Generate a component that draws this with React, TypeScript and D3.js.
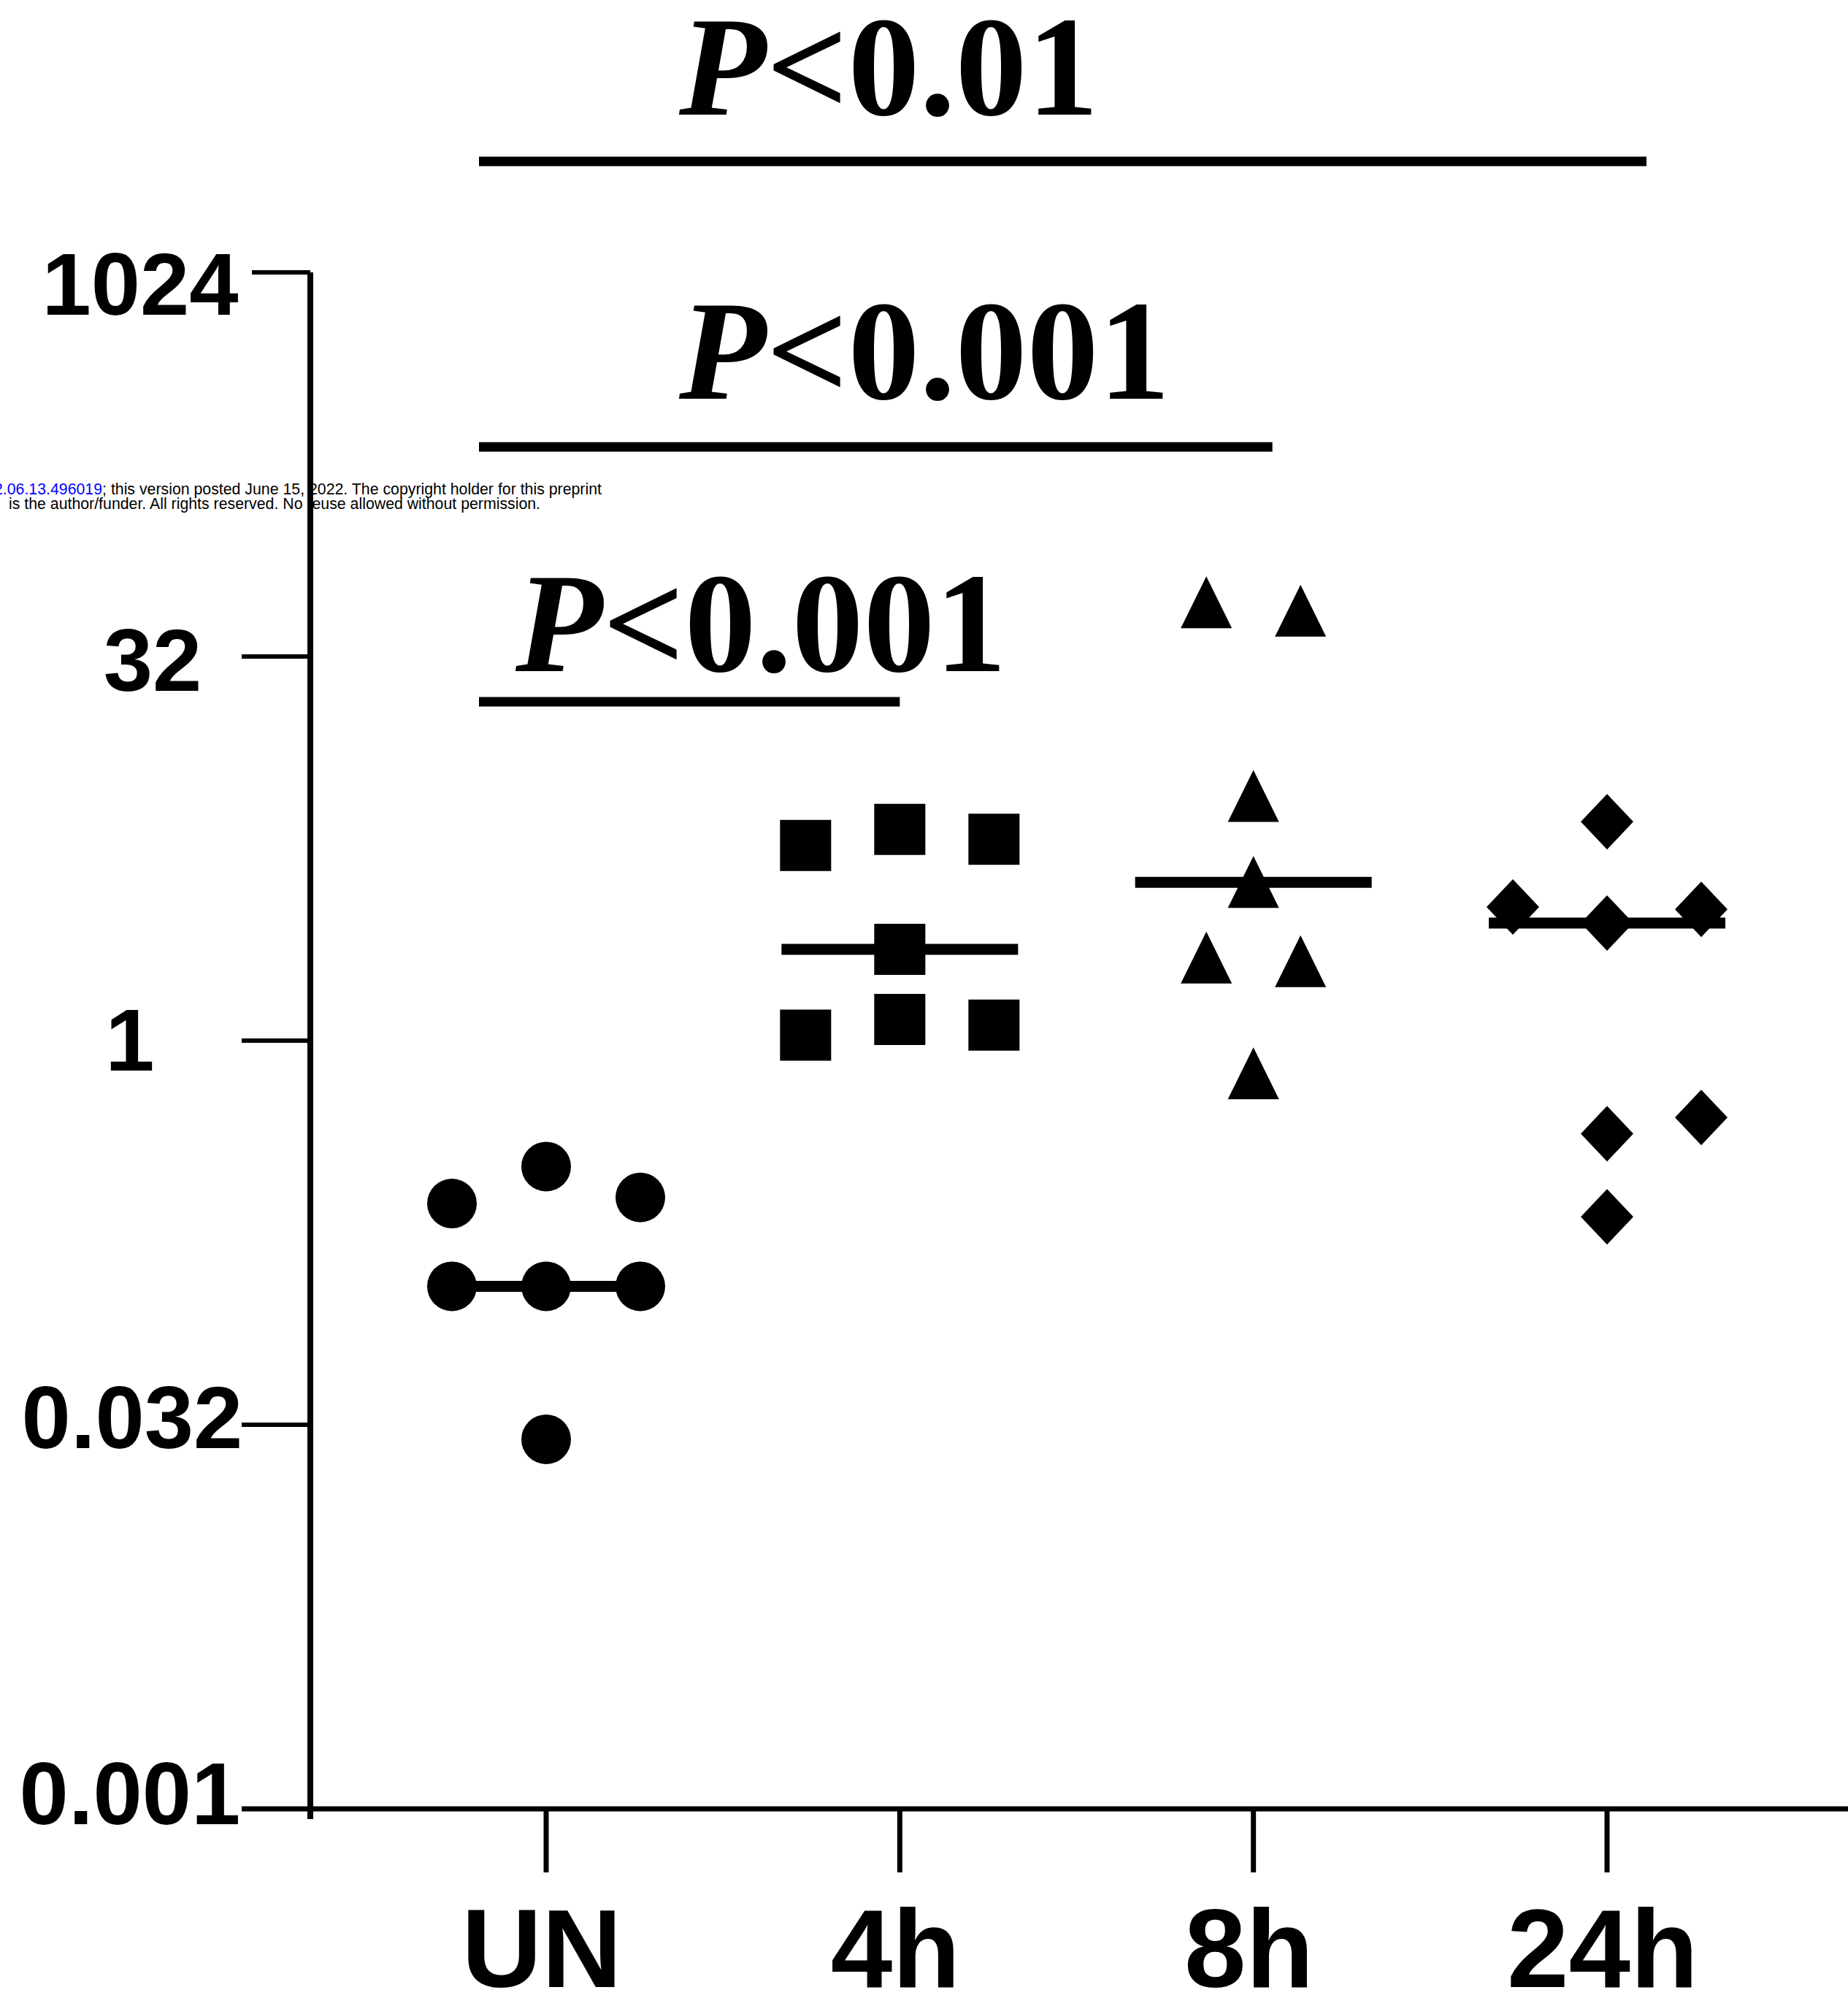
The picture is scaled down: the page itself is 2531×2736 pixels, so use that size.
import React, { useRef, useEffect } from 'react';
import * as d3 from 'd3';

// groups on the x axis
const groups = ['UN', '4h', '8h', '24h'];

// values per group
const unValues = [0.23, 0.321, 0.243, 0.109, 0.109, 0.109, 0.0274];
const h4Values = [5.82, 6.73, 6.15, 2.28, 1.05, 1.21, 1.15];
const h8Values = [52.0, 48.2, 9.06, 4.17, 2.11, 2.04, 0.742];
const h24Values = [7.21, 3.34, 2.89, 3.27, 0.432, 0.5, 0.204];

// column of each point inside its group (-1 left, 0 centre, 1 right)
const unSlots = [-1, 0, 1, -1, 0, 1, 0];
const h4Slots = [-1, 0, 1, 0, -1, 0, 1];
const h8Slots = [-0.5, 0.5, 0, 0, -0.5, 0.5, 0];
const h24Slots = [0, -1, 0, 1, 0, 1, 0];

// y axis ticks
const tickValues = [2 ** -10, 2 ** -5, 1, 2 ** 5, 2 ** 10];
const tickLabels = ['0.001', '0.032', '1', '32', '1024'];

// significance brackets
const compFrom = ['UN', 'UN', 'UN'];
const compTo = ['4h', '8h', '24h'];
const compLabels = ['0.001', '0.001', '0.01'];

const W = 2531;
const H = 2736;

const App = () => {
  const chartRef = useRef<HTMLDivElement | null>(null);

  useEffect(() => {
    d3.select(chartRef.current).select('svg').remove();

    const svg = d3
      .select(chartRef.current)
      .append('svg')
      .attr('width', W)
      .attr('height', H)
      .style('position', 'absolute')
      .style('left', 0)
      .style('top', 0)
      .style('background', '#fff');

    const xScale = d3.scalePoint().domain(groups).range([748, 2201]);
    const yScale = d3.scaleLog().base(2).domain([2 ** -10, 2 ** 10]).range([2477, 373]);

    const slotWidth = 129;
    const series = [
      { key: 'UN', values: unValues, slots: unSlots, shape: 'circle' },
      { key: '4h', values: h4Values, slots: h4Slots, shape: 'square' },
      { key: '8h', values: h8Values, slots: h8Slots, shape: 'triangle' },
      { key: '24h', values: h24Values, slots: h24Slots, shape: 'diamond' },
    ];

    // preprint watermark (sits under the axis)
    const wm = svg
      .append('g')
      .style('font-family', '"Liberation Sans", Arial, sans-serif')
      .style('font-size', '21.3px');
    const wm1 = wm.append('text').attr('x', -8).attr('y', 677);
    wm1.append('tspan').attr('fill', '#0000ff').text('2.06.13.496019');
    wm1.append('tspan').attr('fill', '#000').text('; this version posted June 15, 2022. The copyright holder for this preprint');
    wm.append('text')
      .attr('x', 12)
      .attr('y', 697)
      .attr('fill', '#000')
      .text('is the author/funder. All rights reserved. No reuse allowed without permission.');

    // y axis
    svg.append('line')
      .attr('x1', 425).attr('x2', 425)
      .attr('y1', yScale(2 ** 10)).attr('y2', 2491)
      .attr('stroke', '#000').attr('stroke-width', 8);

    svg.selectAll('.ytick')
      .data(tickValues)
      .enter()
      .append('line')
      .attr('class', 'ytick')
      .attr('x1', (d, i) => (i === tickValues.length - 1 ? 345 : 331))
      .attr('x2', 425)
      .attr('y1', d => yScale(d))
      .attr('y2', d => yScale(d))
      .attr('stroke', '#000')
      .attr('stroke-width', 6);

    // the labels sit a little off their ticks in the original
    const labelShiftX = [-10, -7, -10, 21, 4];
    const labelShiftY = [-23, -12, -3, 3, 14];
    svg.selectAll('.ylabel')
      .data(tickValues)
      .enter()
      .append('text')
      .attr('class', 'ylabel')
      .attr('x', (d, i) => 188 + labelShiftX[i])
      .attr('y', (d, i) => yScale(d) + 44 + labelShiftY[i])
      .attr('text-anchor', 'middle')
      .style('font-family', '"Liberation Sans", Arial, sans-serif')
      .style('font-weight', 'bold')
      .style('font-size', '121px')
      .attr('fill', '#000')
      .text((d, i) => tickLabels[i]);

    // x axis
    svg.append('line')
      .attr('x1', 331).attr('x2', W)
      .attr('y1', yScale(2 ** -10)).attr('y2', yScale(2 ** -10))
      .attr('stroke', '#000').attr('stroke-width', 7);

    svg.selectAll('.xtick')
      .data(groups)
      .enter()
      .append('line')
      .attr('class', 'xtick')
      .attr('x1', d => xScale(d)!)
      .attr('x2', d => xScale(d)!)
      .attr('y1', yScale(2 ** -10))
      .attr('y2', 2564)
      .attr('stroke', '#000')
      .attr('stroke-width', 7);

    svg.selectAll('.xlabel')
      .data(groups)
      .enter()
      .append('text')
      .attr('class', 'xlabel')
      .attr('x', d => xScale(d)! - 6)
      .attr('y', 2721)
      .attr('text-anchor', 'middle')
      .style('font-family', '"Liberation Sans", Arial, sans-serif')
      .style('font-weight', 'bold')
      .style('font-size', '152px')
      .attr('fill', '#000')
      .text(d => d);

    // marker shapes, centred on the point
    const shapePath = (shape: string) => {
      if (shape === 'square') return 'M-35,-35H35V35H-35Z';
      if (shape === 'triangle') return 'M0,-36L35,35H-35Z';
      if (shape === 'diamond') return 'M0,-38L36,0L0,38L-36,0Z';
      return d3.symbol().type(d3.symbolCircle).size(Math.PI * 34 * 34)()!;
    };

    // median lines
    svg.selectAll('.median')
      .data(series)
      .enter()
      .append('line')
      .attr('class', 'median')
      .attr('x1', d => xScale(d.key)! - 162)
      .attr('x2', d => xScale(d.key)! + 162)
      .attr('y1', d => yScale(d3.median(d.values)!))
      .attr('y2', d => yScale(d3.median(d.values)!))
      .attr('stroke', '#000')
      .attr('stroke-width', 15);

    series.forEach(s => {
      svg.selectAll('.pt-' + s.key)
        .data(s.values)
        .enter()
        .append('path')
        .attr('class', 'pt-' + s.key)
        .attr('d', shapePath(s.shape))
        .attr('transform', (d, i) => `translate(${xScale(s.key)! + s.slots[i] * slotWidth},${yScale(d)})`)
        .attr('fill', '#000');
    });

    // significance brackets
    const bracketY = [961, 612, 221];
    const bracketPad = [0, 26, 54];
    const labelDx = [-42, 182, 182];
    const labelY = [919, 546, 157];

    svg.selectAll('.bracket')
      .data(compLabels)
      .enter()
      .append('line')
      .attr('class', 'bracket')
      .attr('x1', (d, i) => xScale(compFrom[i])! - 92)
      .attr('x2', (d, i) => xScale(compTo[i])! + bracketPad[i])
      .attr('y1', (d, i) => bracketY[i])
      .attr('y2', (d, i) => bracketY[i])
      .attr('stroke', '#000')
      .attr('stroke-width', 13);

    const ptext = svg.selectAll('.ptext')
      .data(compLabels)
      .enter()
      .append('text')
      .attr('class', 'ptext')
      .attr('x', (d, i) => xScale(compFrom[i])! + labelDx[i])
      .attr('y', (d, i) => labelY[i])
      .style('font-family', '"Liberation Serif", "Times New Roman", serif')
      .style('font-weight', 'bold')
      .style('font-size', '196px')
      .attr('fill', '#000');
    ptext.append('tspan').style('font-style', 'italic').text('P');
    ptext.append('tspan').text(d => '<' + d);
  }, []);

  return <div ref={chartRef} className="dot-chart"></div>;
};

export default App;
